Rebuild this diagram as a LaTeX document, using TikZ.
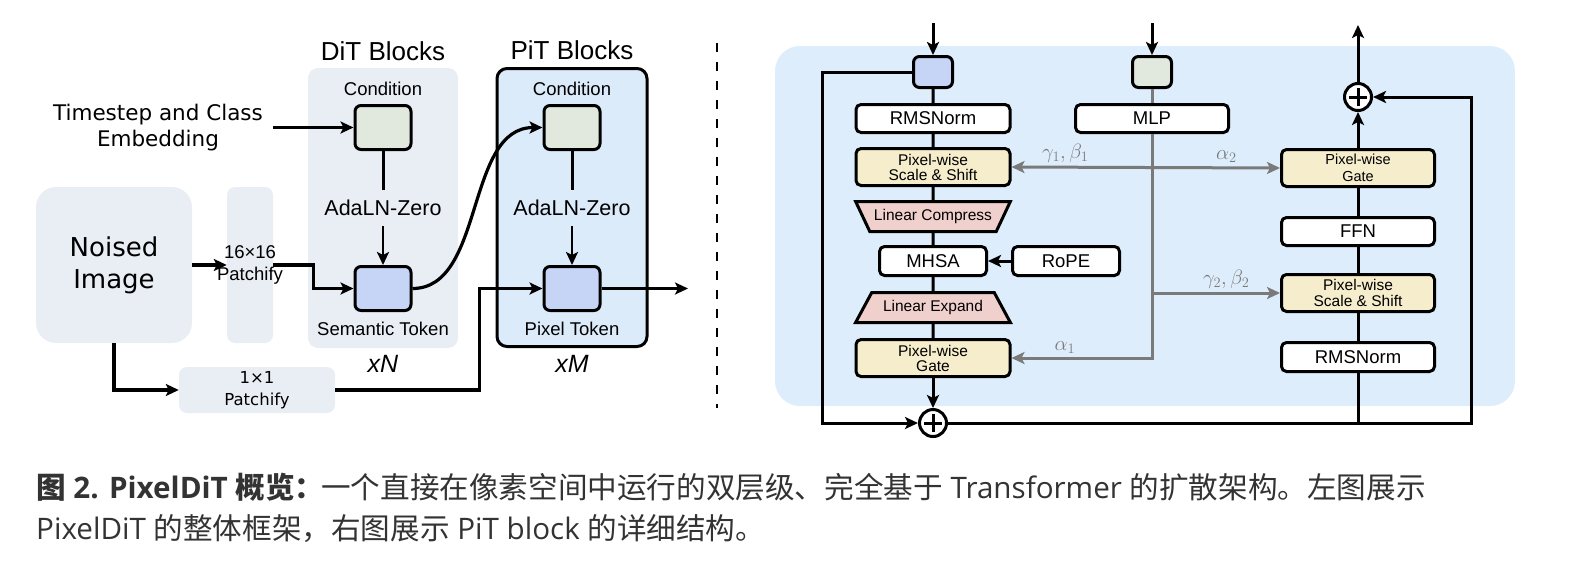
\documentclass[tikz,border=0pt]{standalone}
\usepackage{fontspec}
\usepackage{tikz}
\usetikzlibrary{shapes,arrows.meta,positioning}
\newfontfamily\arialf{Liberation Sans}
\newfontfamily\dejavuf{DejaVu Sans}
\newfontfamily\notof{Open Sans}
\newfontfamily\cjkf{Noto Sans CJK SC}
\definecolor{bggray}{HTML}{E9EEF5}
\definecolor{pitblue}{HTML}{DCEBFA}
\definecolor{panelblue}{HTML}{DEEDFB}
\definecolor{condgreen}{HTML}{E1E9DF}
\definecolor{tokblue}{HTML}{C6D4F6}
\definecolor{ssyellow}{HTML}{F5EDCB}
\definecolor{linpink}{HTML}{EFD0CD}
\definecolor{arrowgray}{HTML}{7A7A7A}
\definecolor{capgray}{HTML}{333333}

\begin{document}
\begin{tikzpicture}[x=1pt, y=-1pt,
    bgbox/.style={rectangle, fill=bggray, rounded corners=8pt, inner sep=0pt},
    block/.style={rectangle, draw, line width=3pt, rounded corners=6pt, minimum width=56pt, minimum height=44pt},
    cond/.style={block, fill=condgreen},
    tok/.style={block, fill=tokblue},
    box/.style={rectangle, draw, line width=3pt, rounded corners=5pt, fill=white, minimum width=154pt, minimum height=28pt, inner sep=0pt, font=\arialf\fontsize{18.5}{22}\selectfont},
    ybox/.style={box, fill=ssyellow, minimum height=37pt, align=center, font=\arialf\fontsize{15.5}{15}\selectfont},
    trap/.style={trapezium, draw, line width=3pt, fill=linpink, trapezium stretches=true, trapezium left angle=58, trapezium right angle=58, minimum width=155pt, minimum height=30pt, inner xsep=0pt, font=\arialf\fontsize{15.5}{18}\selectfont},
    plus/.style={circle, draw, line width=3pt, fill=white, minimum size=27pt, inner sep=0pt,
        path picture={\draw[line width=3pt] ([xshift=-9pt]path picture bounding box.center) -- ([xshift=9pt]path picture bounding box.center) ([yshift=-9pt]path picture bounding box.center) -- ([yshift=9pt]path picture bounding box.center);}},
    lbl/.style={font=\arialf\fontsize{18.5}{22}\selectfont},
    title/.style={font=\arialf\fontsize{26}{30}\selectfont},
    ada/.style={font=\arialf\fontsize{21.5}{25}\selectfont, inner ysep=10pt},
    rep/.style={font=\arialf\itshape\fontsize{25}{28}\selectfont},
    line/.style={line width=3pt},
    arrow/.style={-{Stealth[length=13pt, width=12pt, inset=3pt]}, line width=3.2pt},
    garrow/.style={-{Stealth[length=13pt, width=12pt, inset=3pt]}, line width=3pt, draw=arrowgray},
    glabel/.style={text=arrowgray, font=\fontsize{22}{24}\selectfont},
    caption/.style={anchor=base west, inner sep=0pt, text=capgray, font=\notof\fontsize{29.6}{34}\selectfont}
]
\useasboundingbox (0,0) rectangle (1578,570);

% Left: overall framework
\node[bgbox, rounded corners=20pt, minimum size=156pt, align=center, font=\dejavuf\fontsize{26}{32}\selectfont] (noised) at (114,265) {Noised\\Image};
\node[bgbox, minimum width=46pt, minimum height=156pt, label={[lbl, align=center]center:{16×16\\Patchify}}] (patch16) at (250,265) {};
\node[bgbox, minimum width=156pt, minimum height=46pt, align=center, font=\dejavuf\fontsize{16.5}{22}\selectfont] (patch1) at (257,390) {1×1\\Patchify};
\node[align=center, font=\dejavuf\fontsize{21.5}{26}\selectfont] (tsemb) at (158,128) {Timestep and Class\\Embedding};

\node[bgbox, rounded corners=10pt, minimum width=150pt, minimum height=280pt, label={[title, label distance=4pt]above:DiT Blocks}, label={[rep, label distance=4pt]below:xN}] (ditbg) at (383,208) {};
\node[draw, line width=3pt, fill=pitblue, rounded corners=10pt, minimum width=150pt, minimum height=278pt, label={[title, label distance=4pt]above:PiT Blocks}, label={[rep, label distance=4pt]below:xM}] (pitbg) at (572,207.5) {};

\node[cond, label={[lbl, label distance=5pt]above:Condition}] (dcond) at (383,127.5) {};
\node[tok, below=114pt of dcond, label={[lbl, label distance=7pt]below:Semantic Token}] (semtok) {};
\node[ada] (dada) at (383,208) {AdaLN-Zero};

\node[cond, label={[lbl, label distance=5pt]above:Condition}] (pcond) at (572,127.5) {};
\node[tok, below=114pt of pcond, label={[lbl, label distance=7pt]below:Pixel Token}] (pixtok) {};
\node[ada] (pada) at (572,208) {AdaLN-Zero};
\coordinate (out) at (688,288.5);

\draw[arrow] (noised) -- (patch16);
\draw[arrow] (patch16.east) -- ++(40,0) |- (semtok.west);
\draw[arrow] (noised.south) |- (patch1.west);
\draw[arrow] (patch1.east) -- ++(144,0) |- (pixtok.west);
\draw[arrow] (tsemb.east |- dcond.west) ++(7,0) -- (dcond.west);
\draw[line] (dcond) -- (dada);
\draw[arrow, line width=2.6pt] (dada) -- (semtok);
\draw[line] (pcond) -- (pada);
\draw[arrow, line width=2.6pt] (pada) -- (pixtok);
\draw[arrow] (semtok.east) .. controls (485,288.5) and (465,127.5) .. (pcond.west);
\draw[arrow] (pixtok) -- (out);

\draw[line width=2.8pt, dash pattern=on 9pt off 10pt] (717,43) -- (717,408);

% Right: PiT block
\node[rectangle, fill=panelblue, rounded corners=25pt, minimum width=740pt, minimum height=360pt] (panel) at (1145,226) {};

\node[tok, minimum width=39pt, minimum height=31pt] (rtok) at (933,72) {};
\node[box, below=14pt of rtok] (rms1) {RMSNorm};
\node[ybox, below=13pt of rms1] (ss1) {Pixel-wise\\Scale \& Shift};
\node[trap, shape border rotate=180, below=13pt of ss1] (lc) {Linear Compress};
\node[box, minimum width=107pt, minimum height=29pt, below=12pt of lc] (mhsa) {MHSA};
\node[box, minimum width=107pt, minimum height=29pt, right=23pt of mhsa] (rope) {RoPE};
\node[trap, below=14pt of mhsa] (le) {Linear Expand};
\node[ybox, below=14pt of le] (gate1) {Pixel-wise\\Gate};
\node[plus, below=30pt of gate1] (add1) {};

\node[cond, minimum width=39pt, minimum height=31pt] (rcond) at (1152,72) {};
\node[box, minimum width=153pt] (mlp) at (1152,118.5) {MLP};

\node[ybox, minimum width=153pt, font=\arialf\fontsize{14.5}{17}\selectfont] (gate2) at (1358,168) {Pixel-wise\\Gate};
\node[box, minimum width=153pt, below=28pt of gate2] (ffn) {FFN};
\node[ybox, minimum width=153pt, below=26pt of ffn, font=\arialf\fontsize{15.5}{16}\selectfont] (ss2) {Pixel-wise\\Scale \& Shift};
\node[box, minimum width=153pt, minimum height=29pt, below=28pt of ss2] (rms2) {RMSNorm};
\node[plus, above=36pt of gate2] (add2) {};

\coordinate (tokin) at (933,23);
\coordinate (condin) at (1152,23);
\coordinate (pout) at (1358,25);

\draw[arrow, line width=3pt] (tokin) -- (rtok);
\draw[arrow, line width=3pt] (condin) -- (rcond);
\draw[line] (rtok) -- (rms1) -- (ss1) -- (lc) -- (mhsa) -- (le) -- (gate1);
\draw[arrow, line width=3pt] (gate1) -- (add1);
\draw[arrow, line width=3pt] (rope) -- (mhsa);
\draw[arrow, line width=3pt] (rtok.west) -- ++(-90,0) |- (add1.west);
\draw[arrow, line width=3pt] (add1.east) -- ++(523,0) |- (add2.east);
\draw[line] (rms2 |- add1) -- (rms2) -- (ss2) -- (ffn) -- (gate2);
\draw[arrow, line width=3pt] (gate2) -- (add2);
\draw[arrow, line width=3pt] (add2) -- (pout);

\draw[line, draw=arrowgray] (rcond) -- (mlp);
\draw[garrow] (mlp.south) |- (gate1.east) node[pos=0.81, above, glabel] {$\alpha_1$};
\draw[garrow, {Stealth[length=13pt, width=12pt, inset=3pt]}-{Stealth[length=13pt, width=12pt, inset=3pt]}] (ss1.east) -- (gate2.west) node[pos=0.2, above, glabel] {$\gamma_1, \beta_1$} node[pos=0.8, above, glabel] {$\alpha_2$};
\draw[garrow] (mlp.south |- ss2.west) -- (ss2.west) node[pos=0.58, above, glabel] {$\gamma_2, \beta_2$};

% Caption
\node[caption] (cap1) at (36,498) {{\bfseries{\cjkf 图} 2. PixelDiT {\cjkf 概览：}}\hspace{-3pt}{\cjkf 一个直接在像素空间中运行的双层级、完全基于} Transformer {\cjkf 的扩散架构。左图展示}};
\node[caption] (cap2) at (36,539) {PixelDiT {\cjkf 的整体框架，右图展示} PiT block {\cjkf 的详细结构。}};

\end{tikzpicture}
\end{document}
